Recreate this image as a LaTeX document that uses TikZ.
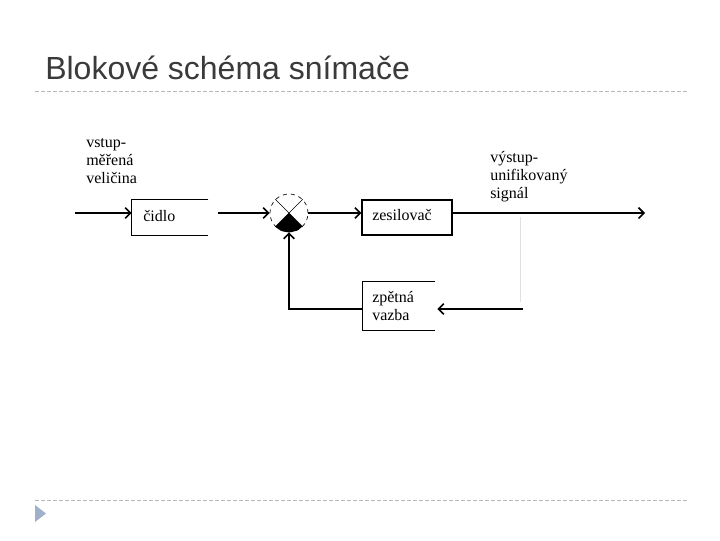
\documentclass[tikz,border=0pt]{standalone}
\usepackage{fontspec}
\setmainfont{Liberation Serif}
\newfontfamily\titlefont{Liberation Sans}
\usetikzlibrary{arrows.meta}
\definecolor{titlegray}{HTML}{3A3A3A}
\definecolor{sepgray}{HTML}{B8B8B8}
\definecolor{bullet}{HTML}{9FB0C8}
\begin{document}
\begin{tikzpicture}[x=0.75pt,y=-0.75pt,
  conn/.style={line width=1.2pt, -{Straight Barb[length=4pt,width=8pt]}},
  boxline/.style={line width=0.8pt},
  lbl/.style={anchor=base west, inner sep=0pt, font=\fontsize{12}{13.5}\selectfont, align=left},
  sepline/.style={sepgray, line width=0.7pt, dash pattern=on 3pt off 1.5pt}]
\useasboundingbox (0,0) rectangle (720,540);
% title and frame
\node[anchor=base west, inner sep=0pt, text=titlegray, font=\titlefont\fontsize{24}{28}\selectfont] (title) at (45,79) {Blokové schéma snímače};
\draw[sepline] (35,91) -- (688,91);
\draw[sepline] (35,500) -- (688,500);
\fill[bullet] (35,505) -- (46,513.5) -- (35,522) -- cycle;
% blocks
\node[minimum width=57pt, minimum height=26.25pt, inner sep=0pt] (cidlo) at (170,217.5) {};
\draw[boxline] (cidlo.north east) -- (cidlo.north west) -- (cidlo.south west) -- (cidlo.south east);
\node[lbl] (tcidlo) at (143,221) {čidlo};
\node[draw, boxline, minimum width=67.5pt, minimum height=26.25pt, inner sep=0pt] (zes) at (407,217.5) {};
\node[lbl] (tzes) at (372,220) {zesilovač};
\node[minimum width=54pt, minimum height=36pt, inner sep=0pt] (zpet) at (399,306) {};
\draw[boxline] (zpet.north east) -- (zpet.north west) -- (zpet.south west) -- (zpet.south east);
\node[lbl] (tzpet) at (372,320) {zpětná\\vazba};
% summing junction
\node[circle, draw, dashed, line width=0.5pt, minimum size=28.5pt, inner sep=0pt] (sum) at (289,213) {};
\fill (sum.center) -- (sum.south west) arc[start angle=225, end angle=315, radius=14.25pt] -- cycle;
\draw[line width=0.5pt] (sum.north west) -- (sum.south east) (sum.north east) -- (sum.south west);
% labels
\node[lbl] (tin) at (86,183) {vstup-\\měřená\\veličina};
\node[lbl] (tout) at (490,198) {výstup-\\unifikovaný\\signál};
% connectors
\coordinate (in) at (75,213);
\coordinate (out) at (645,213);
\coordinate (fb) at (523,309);
\draw[conn] (in) -- (in -| cidlo.west);
\draw[conn] ([xshift=7.5pt]cidlo.east |- sum.west) -- (sum.west);
\draw[conn] (sum.east) -- (sum.east -| zes.west);
\draw[conn] (zes.east |- out) -- (out);
\draw[black!12, line width=0.4pt] (520,217) -- (520,302);
\draw[conn] (fb) -- ([xshift=1.5pt]fb -| zpet.east);
\draw[conn] (zpet.west |- fb) -| (sum.south);
\end{tikzpicture}
\end{document}
